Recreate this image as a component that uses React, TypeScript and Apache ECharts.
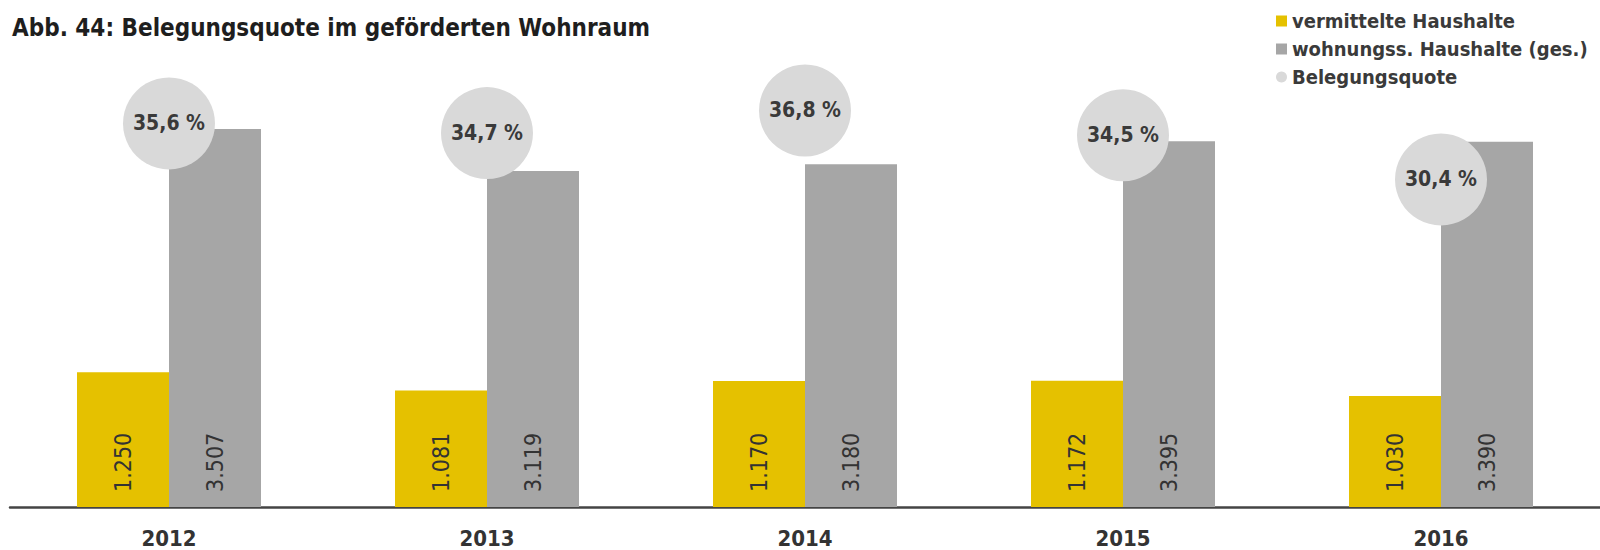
import React, { useEffect, useRef } from "react";
import * as echarts from "echarts";

const years = ["2012", "2013", "2014", "2015", "2016"];
const vermittelteHaushalte = [1250, 1081, 1170, 1172, 1030];
const wohnungssHaushalte = [3507, 3119, 3180, 3395, 3390];
const belegungsquote = [35.6, 34.7, 36.8, 34.5, 30.4];

const titleText = "Abb. 44: Belegungsquote im geförderten Wohnraum";
const seriesNames = ["vermittelte Haushalte", "wohnungss. Haushalte (ges.)", "Belegungsquote"];

const fmtThousands = (v: number) => String(v).replace(/\B(?=(\d{3})+(?!\d))/g, ".");
const fmtPercent = (v: number) => v.toFixed(1).replace(".", ",") + " %";

const FONT = "'DejaVu Sans Condensed', 'DejaVu Sans', sans-serif";

export default function App() {
  const ref = useRef<HTMLDivElement>(null);
  useEffect(() => {
    if (!ref.current) return;
    const chart = echarts.init(ref.current, null, { renderer: "svg" });
    const barLabel = {
      show: true,
      position: "insideBottom",
      rotate: 90,
      align: "left",
      verticalAlign: "middle",
      distance: 15,
      fontFamily: FONT,
      fontSize: 23,
      color: "#333",
      formatter: (p: any) => fmtThousands(p.value),
    };
    chart.setOption({
      animation: false,
      backgroundColor: "#ffffff",
      title: {
        text: titleText,
        left: 7,
        top: 11,
        textStyle: {
          fontFamily: FONT,
          fontWeight: "bold",
          fontSize: 24,
          color: "#1e1e1e",
        },
      },
      legend: {
        orient: "vertical",
        left: 1271,
        top: 6,
        itemWidth: 11,
        itemHeight: 11,
        itemGap: 8,
        data: [
          { name: seriesNames[0], icon: "rect" },
          { name: seriesNames[1], icon: "rect" },
          { name: seriesNames[2], icon: "circle" },
        ],
        textStyle: {
          fontFamily: FONT,
          fontSize: 20,
          fontWeight: "bold",
          lineHeight: 20,
          color: "#3a3a3a",
          padding: [0, 0, 0, 0],
        },
      },
      grid: { left: 10, top: 76, width: 1603, bottom: 43, containLabel: false },
      xAxis: {
        type: "category",
        data: years,
        axisLine: { show: true, lineStyle: { color: "#444", width: 2.5 } },
        axisTick: { show: false },
        axisLabel: {
          fontFamily: FONT,
          fontSize: 22,
          fontWeight: "bold",
          color: "#333",
          margin: 20,
        },
      },
      yAxis: [
        { type: "value", min: 0, max: 4000, show: false, splitLine: { show: false } },
        { type: "value", min: 0, max: 40, show: false, splitLine: { show: false } },
      ],
      series: [
        {
          name: seriesNames[0],
          type: "bar",
          data: vermittelteHaushalte,
          barWidth: 92,
          barGap: "0%",
          itemStyle: { color: "#E5C100" },
          label: barLabel,
        },
        {
          name: seriesNames[1],
          type: "bar",
          data: wohnungssHaushalte,
          barWidth: 92,
          barGap: "0%",
          itemStyle: { color: "#A6A6A6" },
          label: barLabel,
        },
        {
          name: seriesNames[2],
          type: "scatter",
          yAxisIndex: 1,
          data: belegungsquote,
          symbol: "circle",
          symbolSize: 92,
          z: 5,
          itemStyle: { color: "#D9D9D9", opacity: 1 },
          label: {
            show: true,
            position: "inside",
            fontFamily: FONT,
            fontSize: 21,
            fontWeight: "bold",
            color: "#3a3a3a",
            formatter: (p: any) => fmtPercent(p.value),
          },
        },
      ],
    });
    return () => chart.dispose();
  }, []);
  return (
    <div
      ref={ref}
      style={{ position: "fixed", left: 0, top: 0, width: 1600, height: 550 }}
    />
  );
}
